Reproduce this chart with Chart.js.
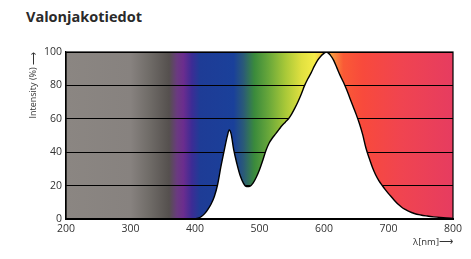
<!DOCTYPE html>
<html>
<head>
<meta charset="utf-8">
<script src="https://cdn.jsdelivr.net/npm/chart.js@4.4.1/dist/chart.umd.min.js"></script>
<style>
  html, body { margin: 0; padding: 0; background: #fff; }
  #wrap { position: relative; width: 471px; height: 259px; }
  #title { position: absolute; left: 26px; top: 7px; font: bold 14.5px "Open Sans", sans-serif; color: #2a2a2a; line-height: 20px; }
  canvas { position: absolute; left: 0; top: 0; }
</style>
</head>
<body>
<div id="wrap">
  <div id="title">Valonjakotiedot</div>
  <canvas id="spectrum" width="471" height="259"></canvas>
</div>
<script>
// wavelength (nm) and relative intensity (%)
var wavelengths = [200, 380, 395, 400, 405, 410, 415, 420, 425, 430, 435, 440, 445, 450, 453, 456, 460, 465, 470, 475, 480, 485, 490, 495, 500, 505, 510, 515, 520, 525, 530, 535, 540, 545, 550, 555, 560, 565, 570, 575, 580, 585, 590, 595, 600, 604, 610, 615, 620, 625, 630, 635, 640, 645, 650, 655, 660, 665, 670, 675, 680, 685, 690, 695, 700, 705, 710, 715, 720, 725, 730, 740, 750, 760, 770, 780, 790, 800];
var intensity = [0, 0, 0, 0.1, 0.5, 1.5, 3.2, 5.8, 9, 13.5, 20.5, 31, 40.5, 49.5, 53.3, 51, 41.5, 33, 26, 21.5, 19.4, 19.6, 21.5, 25, 29.5, 35, 41, 45.5, 48.5, 51, 53.5, 56, 58, 60, 63, 66.5, 70.5, 75, 80, 84, 87.5, 91.5, 95, 97.5, 99.2, 100, 98, 95, 90.5, 86, 82, 77.5, 72.5, 67.5, 62.5, 57, 50.5, 42.5, 36.5, 31, 26.5, 23, 20.2, 17.6, 15.2, 13, 10.8, 8.8, 7.2, 5.9, 4.9, 3.3, 2.4, 1.8, 1.3, 0.9, 0.6, 0.4];
var xTicks = [200, 300, 400, 500, 600, 700, 800];
var yTicks = [0, 20, 40, 60, 80, 100];

var points = [];
for (var i = 0; i < wavelengths.length; ++i) {
    points.push({ x: wavelengths[i], y: intensity[i] });
}

// spectrum colours behind the curve (nm -> colour)
var spectrumStops = [
    [200, '#8b8682'], [300, '#87827f'], [330, '#6f6b67'], [360, '#55504e'],
    [372, '#6a3a80'], [382, '#6b2d8e'], [395, '#3d2c95'], [408, '#1e3c96'],
    [460, '#1a409a'], [475, '#2a5a78'], [492, '#3a8a3c'], [515, '#6aa83a'],
    [540, '#a8c838'], [565, '#e0e040'], [585, '#f5ec48'], [600, '#f8c048'],
    [612, '#f89a40'], [630, '#fa5a36'], [660, '#f84a3c'], [720, '#f04450'],
    [800, '#e63c60']
];

var spectrumPlugin = {
    id: 'spectrum',
    beforeDraw: function (chart) {
        var a = chart.chartArea, ctx = chart.ctx;
        var g = ctx.createLinearGradient(a.left, 0, a.right, 0);
        for (var i = 0; i < spectrumStops.length; ++i) {
            g.addColorStop((spectrumStops[i][0] - 200) / 600, spectrumStops[i][1]);
        }
        ctx.save();
        ctx.fillStyle = g;
        ctx.fillRect(a.left, a.top, a.right - a.left, a.bottom - a.top);
        ctx.restore();
    },
    afterDatasetsDraw: function (chart) {
        var a = chart.chartArea, ctx = chart.ctx;
        ctx.save();
        ctx.strokeStyle = '#000';
        ctx.lineWidth = 1.2;
        ctx.strokeRect(a.left, a.top, a.right - a.left, a.bottom - a.top);
        ctx.lineWidth = 2.2;
        ctx.beginPath();
        ctx.moveTo(a.left, a.bottom);
        ctx.lineTo(a.right, a.bottom);
        ctx.stroke();
        ctx.restore();
    }
};

var tickFont = { family: '"Open Sans", sans-serif', size: 10.5 };

new Chart(document.getElementById('spectrum'), {
    type: 'line',
    data: {
        datasets: [{
            data: points,
            borderColor: '#000',
            borderWidth: 1.4,
            backgroundColor: '#fff',
            fill: 'origin',
            pointRadius: 0,
            cubicInterpolationMode: 'monotone'
        }]
    },
    options: {
        responsive: false,
        animation: false,
        devicePixelRatio: 1,
        layout: { padding: { top: 52, right: 18, left: 0, bottom: 0 } },
        plugins: { legend: { display: false }, tooltip: { enabled: false } },
        scales: {
            x: {
                type: 'linear',
                min: 200,
                max: 800,
                afterBuildTicks: function (s) { s.ticks = xTicks.map(function (v) { return { value: v }; }); },
                afterFit: function (s) { s.height = 40; },
                ticks: { color: '#333', font: tickFont, padding: 4, maxRotation: 0 },
                grid: { display: false, drawTicks: false },
                border: { color: '#000', width: 2 },
                title: {
                    display: true,
                    text: 'λ[nm]⟶',
                    align: 'end',
                    color: '#333',
                    font: { family: '"Open Sans", sans-serif', size: 9.5 },
                    padding: { top: 0, bottom: 11 }
                }
            },
            y: {
                min: 0,
                max: 100,
                afterBuildTicks: function (s) { s.ticks = yTicks.map(function (v) { return { value: v }; }); },
                afterFit: function (s) { s.width = 66; },
                ticks: { color: '#333', font: tickFont, padding: 4 },
                grid: { color: '#000', lineWidth: 1, drawTicks: false },
                border: { color: '#000', width: 1.2 },
                title: {
                    display: true,
                    text: 'Intensity (%) ⟶',
                    align: 'end',
                    color: '#333',
                    font: { family: '"Open Sans", sans-serif', size: 9 },
                    padding: { top: 28, bottom: 0 }
                }
            }
        }
    },
    plugins: [spectrumPlugin]
});
</script>
</body>
</html>
